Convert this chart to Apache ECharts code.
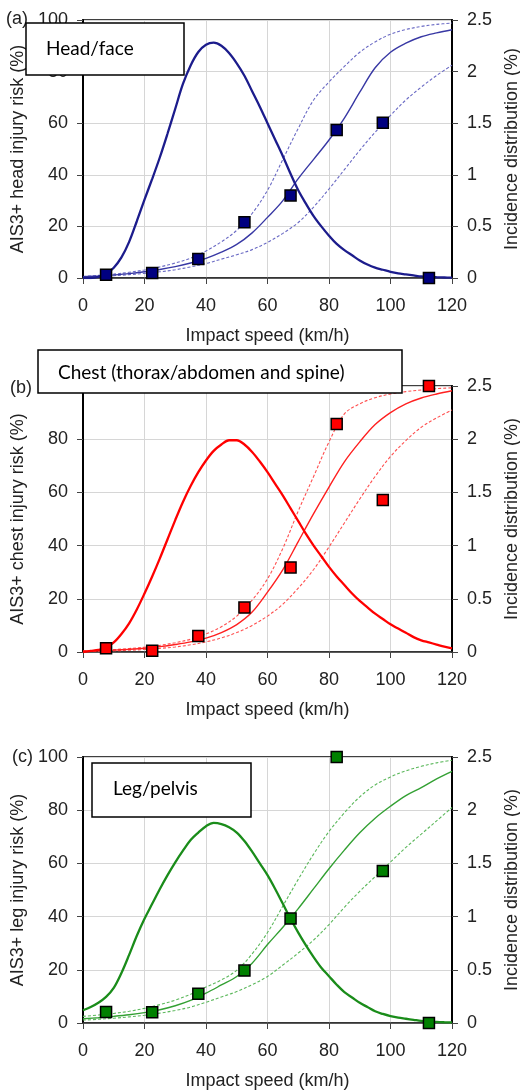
<!DOCTYPE html>
<html>
<head>
<meta charset="utf-8">
<script src="https://cdn.jsdelivr.net/npm/echarts/dist/echarts.min.js"></script>
<style>
html, body { margin: 0; padding: 0; background: #fff; }
#chart { width: 520px; height: 1090px; }
</style>
</head>
<body>
<div id="chart"></div>
<script>
// speeds (km/h)
var distSpeed = [0, 2.5, 5, 7.5, 10, 12.5, 15, 17.5, 20, 22.5, 25, 27.5, 30, 32.5, 35, 37.5, 40, 42.5, 45, 47.5,
  50, 52.5, 55, 57.5, 60, 62.5, 65, 67.5, 70, 72.5, 75, 77.5, 80, 82.5, 85, 87.5, 90, 92.5, 95, 97.5,
  100, 102.5, 105, 107.5, 110, 112.5, 115, 117.5, 120];
var riskSpeed = [0, 5, 10, 15, 20, 25, 30, 35, 40, 45, 50, 55, 60, 65, 70, 75, 80, 85, 90, 95, 100, 105, 110, 115, 120];
var obsSpeed = [7.5, 22.5, 37.5, 52.5, 67.5, 82.5, 97.5, 112.5];

// incidence distribution (%)
var headDist = [0, 0, 0.01, 0.04, 0.1, 0.2, 0.35, 0.55, 0.76, 0.96, 1.17, 1.4, 1.64, 1.88, 2.06, 2.19, 2.26, 2.28, 2.25, 2.18,
  2.08, 1.96, 1.81, 1.66, 1.5, 1.34, 1.18, 1.01, 0.85, 0.72, 0.6, 0.5, 0.41, 0.33, 0.27, 0.22, 0.17, 0.13, 0.1, 0.08,
  0.06, 0.045, 0.035, 0.025, 0.015, 0.01, 0.007, 0.005, 0.003];
var chestDist = [0, 0.01, 0.02, 0.04, 0.09, 0.17, 0.27, 0.4, 0.55, 0.71, 0.88, 1.06, 1.24, 1.41, 1.56, 1.69, 1.8, 1.89, 1.95, 1.99,
  1.99, 1.95, 1.88, 1.79, 1.69, 1.58, 1.47, 1.35, 1.23, 1.11, 1.0, 0.9, 0.8, 0.71, 0.63, 0.55, 0.48, 0.42, 0.36, 0.31,
  0.26, 0.22, 0.18, 0.14, 0.11, 0.09, 0.07, 0.05, 0.035];
var legDist = [0.12, 0.15, 0.19, 0.245, 0.33, 0.47, 0.64, 0.82, 0.98, 1.12, 1.26, 1.39, 1.51, 1.62, 1.72, 1.79, 1.85, 1.88, 1.87, 1.84,
  1.79, 1.71, 1.61, 1.5, 1.39, 1.26, 1.12, 0.98, 0.85, 0.73, 0.62, 0.52, 0.44, 0.36, 0.29, 0.24, 0.19, 0.15, 0.11, 0.085,
  0.065, 0.05, 0.04, 0.03, 0.02, 0.015, 0.01, 0.007, 0.005];

// AIS3+ injury risk (%) with confidence bounds
var headRisk  = [0.5, 0.8, 1.2, 1.7, 2.4, 3.3, 4.4, 5.8, 7.6, 10, 13, 17.5, 23.5, 30, 38.5, 46, 53.5, 62, 72, 81.5, 87.5, 91, 93.5, 95, 96.2];
var headUpper = [0.6, 1.0, 1.5, 2.2, 3.1, 4.3, 5.8, 7.7, 10.5, 14, 18.5, 25, 34, 46, 58, 69, 76, 82, 87.5, 91.5, 94.5, 96.3, 97.5, 98.3, 98.8];
var headLower = [0.4, 0.6, 0.9, 1.3, 1.8, 2.4, 3.2, 4.3, 5.6, 7.3, 9.0, 11, 13.8, 17.3, 21.5, 27.5, 34.5, 42, 49.5, 56.5, 63, 69, 74, 78.5, 82.5];

var chestRisk  = [0.3, 0.5, 0.7, 1.0, 1.4, 2.0, 2.8, 3.8, 5.2, 7.3, 10.3, 15, 22.5, 31, 41.5, 52, 62, 71.5, 79, 85.5, 90, 93.3, 95.5, 97, 98.2];
var chestUpper = [0.4, 0.6, 0.9, 1.3, 1.8, 2.5, 3.5, 4.8, 6.8, 9.5, 13.5, 19.5, 27.5, 39, 53, 66, 79, 89.5, 93.3, 95.6, 97, 97.9, 98.5, 99, 99.3];
var chestLower = [0.2, 0.3, 0.45, 0.65, 0.95, 1.35, 1.9, 2.7, 3.8, 5.3, 7.3, 10, 13.5, 18, 24, 31, 39.5, 48.5, 57.5, 66, 73.5, 79.5, 84.5, 88, 91];

var legRisk  = [1.6, 2.0, 2.5, 3.1, 3.9, 5.0, 6.5, 8.5, 11.2, 14.3, 17.5, 22.5, 29.5, 36, 43, 50.5, 58, 65, 71.5, 77, 81.5, 85.5, 88.5, 91.8, 94.6];
var legUpper = [2.5, 3.0, 3.6, 4.4, 5.5, 6.9, 8.6, 10.8, 13.5, 16.2, 19.8, 26, 34, 44, 54, 63.5, 72, 79, 85, 89.5, 92.5, 94.8, 96.5, 97.8, 98.8];
var legLower = [1.1, 1.4, 1.8, 2.3, 2.9, 3.7, 4.7, 6.0, 7.8, 9.8, 11.8, 14.4, 17.5, 21.8, 26.3, 31.2, 37, 43.5, 49.5, 55, 60.5, 66, 71, 76, 81];

// observed risk (%)
var headObs  = [1.3, 1.9, 7.4, 21.6, 32, 57.4, 60.2, 0];
var chestObs = [1.4, 0.5, 6.0, 16.7, 31.8, 85.7, 57.1, 100];
var legObs   = [4.1, 4.0, 11, 19.7, 39.3, 100, 57.1, 0];

var panels = [
  { top: 20, height: 258, yName: 'AIS3+ head injury risk (%)', dist: headDist, risk: headRisk, upper: headUpper, lower: headLower, obs: headObs,
    main: '#1c1c8c', thin: '#3838a4', ci: '#6a6ac4', mark: '#000080' },
  { top: 386, height: 266, yName: 'AIS3+ chest injury risk (%)', dist: chestDist, risk: chestRisk, upper: chestUpper, lower: chestLower, obs: chestObs,
    main: '#ff0000', thin: '#ff2020', ci: '#ff5050', mark: '#ff0000' },
  { top: 757, height: 266, yName: 'AIS3+ leg injury risk (%)', dist: legDist, risk: legRisk, upper: legUpper, lower: legLower, obs: legObs,
    main: '#1a8c1a', thin: '#33a033', ci: '#5cb85c', mark: '#008000' }
];

var FONT = 'Liberation Sans';
var grids = [], xAxes = [], yAxes = [], series = [];

function pairs(xs, ys) {
  return xs.map(function (x, i) { return [x, ys[i]]; });
}

panels.forEach(function (p, i) {
  grids.push({ left: 83, width: 369, top: p.top, height: p.height, show: true, borderColor: '#000', borderWidth: 1.5,
    outerBoundsMode: 'none', containLabel: false });
  xAxes.push({
    gridIndex: i, type: 'value', min: 0, max: 120, interval: 20,
    name: 'Impact speed (km/h)', nameLocation: 'middle', nameGap: 49,
    nameTextStyle: { fontSize: 18, fontFamily: FONT, color: '#222' },
    axisLine: { lineStyle: { color: '#333', width: 1.5 } },
    axisTick: { length: 6, lineStyle: { color: '#444' } },
    axisLabel: { fontSize: 18, fontFamily: FONT, color: '#222', margin: 19 },
    splitLine: { show: true, lineStyle: { color: '#d6d6d6', width: 1 } }
  });
  yAxes.push({
    gridIndex: i, type: 'value', min: 0, max: 100, interval: 20, position: 'left',
    name: p.yName, nameLocation: 'middle', nameGap: 51, nameRotate: 90,
    nameTextStyle: { fontSize: 18, fontFamily: FONT, color: '#222' },
    axisLine: { show: true, lineStyle: { color: '#000', width: 2 } },
    axisTick: { show: true, length: 6, lineStyle: { color: '#444' } },
    axisLabel: { fontSize: 18, fontFamily: FONT, color: '#222', margin: 15 },
    splitLine: { show: true, lineStyle: { color: '#d6d6d6', width: 1 } }
  });
  yAxes.push({
    gridIndex: i, type: 'value', min: 0, max: 2.5, interval: 0.5, position: 'right',
    name: 'Incidence distribution (%)', nameLocation: 'middle', nameGap: 50, nameRotate: 90,
    nameTextStyle: { fontSize: 18, fontFamily: FONT, color: '#222' },
    axisLine: { show: true, lineStyle: { color: '#000', width: 2 } },
    axisTick: { show: true, length: 6, lineStyle: { color: '#444' } },
    axisLabel: { fontSize: 18, fontFamily: FONT, color: '#222', margin: 15 },
    splitLine: { show: false }
  });

  var base = { type: 'line', xAxisIndex: i, symbol: 'none', smooth: 0.35, silent: true };
  series.push(Object.assign({}, base, { yAxisIndex: 2 * i, data: pairs(riskSpeed, p.upper),
    lineStyle: { color: p.ci, width: 1.1, type: [3, 2] } }));
  series.push(Object.assign({}, base, { yAxisIndex: 2 * i, data: pairs(riskSpeed, p.lower),
    lineStyle: { color: p.ci, width: 1.1, type: [3, 2] } }));
  series.push(Object.assign({}, base, { yAxisIndex: 2 * i, data: pairs(riskSpeed, p.risk),
    lineStyle: { color: p.thin, width: 1.4 } }));
  series.push(Object.assign({}, base, { yAxisIndex: 2 * i + 1, data: pairs(distSpeed, p.dist),
    lineStyle: { color: p.main, width: 2.3 } }));
  series.push({
    type: 'scatter', xAxisIndex: i, yAxisIndex: 2 * i, data: pairs(obsSpeed, p.obs),
    symbol: 'rect', symbolSize: 11, clip: false, z: 5,
    itemStyle: { color: p.mark, borderColor: '#000', borderWidth: 1.5, opacity: 1 }
  });
});

var BOXFONT = '19px Lato';
var graphics = [
  { type: 'text', z: 90, style: { text: '(a)', x: 6, y: 19, font: '18px ' + FONT, fill: '#222', verticalAlign: 'middle' } },
  { type: 'text', z: 90, style: { text: '(b)', x: 10, y: 388, font: '18px ' + FONT, fill: '#222', verticalAlign: 'middle' } },
  { type: 'text', z: 90, style: { text: '(c)', x: 12, y: 757, font: '18px ' + FONT, fill: '#222', verticalAlign: 'middle' } },
  { type: 'rect', z: 100, shape: { x: 26, y: 23, width: 158, height: 52 }, style: { fill: '#fff', stroke: '#000', lineWidth: 1.5 } },
  { type: 'text', z: 101, style: { text: 'Head/face', x: 46, y: 49, font: BOXFONT, fill: '#000', verticalAlign: 'middle' } },
  { type: 'rect', z: 100, shape: { x: 38, y: 350, width: 364, height: 43 }, style: { fill: '#fff', stroke: '#000', lineWidth: 1.5 } },
  { type: 'text', z: 101, style: { text: 'Chest (thorax/abdomen and spine)', x: 58, y: 373, font: BOXFONT, fill: '#000', verticalAlign: 'middle' } },
  { type: 'rect', z: 100, shape: { x: 92, y: 763, width: 159, height: 54 }, style: { fill: '#fff', stroke: '#000', lineWidth: 1.5 } },
  { type: 'text', z: 101, style: { text: 'Leg/pelvis', x: 113, y: 789, font: BOXFONT, fill: '#000', verticalAlign: 'middle' } }
];

var chart = echarts.init(document.getElementById('chart'), null, { renderer: 'canvas' });
chart.setOption({
  animation: false,
  backgroundColor: '#fff',
  grid: grids,
  xAxis: xAxes,
  yAxis: yAxes,
  series: series,
  graphic: graphics
});
</script>
</body>
</html>
